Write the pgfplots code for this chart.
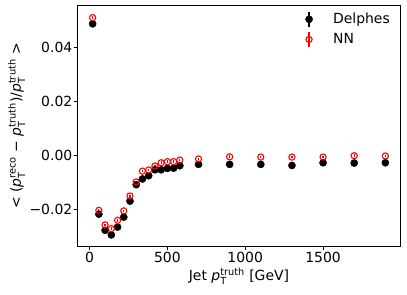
\documentclass[border=0pt]{standalone}
\usepackage{fontspec}
\setmainfont{DejaVu Sans}
\usepackage{amsmath}
\usepackage{pgfplots}
\usepackage{pgfplotstable}
\pgfplotsset{compat=1.18}

\pgfplotstableread{
x y e
20 0.0488 0.0005
60 -0.0216 0.0005
100 -0.0276 0.0005
140 -0.0293 0.0005
180 -0.0264 0.0005
220 -0.0227 0.0005
260 -0.0168 0.0005
300 -0.0107 0.0005
340 -0.0086 0.0005
380 -0.0074 0.0005
420 -0.0052 0.0005
460 -0.0052 0.0005
500 -0.0047 0.0005
540 -0.0046 0.0005
580 -0.0037 0.0005
700 -0.0032 0.0005
900 -0.0032 0.0005
1100 -0.0032 0.0005
1300 -0.0036 0.0005
1500 -0.0026 0.0005
1700 -0.0027 0.0005
1900 -0.0026 0.0005
}\delphes

\pgfplotstableread{
x y e
20 0.0511 0.0005
60 -0.0202 0.0005
100 -0.0256 0.0005
140 -0.0270 0.0005
180 -0.0239 0.0005
220 -0.0204 0.0005
260 -0.0149 0.0005
300 -0.0097 0.0005
340 -0.0057 0.0005
380 -0.0053 0.0005
420 -0.0038 0.0005
460 -0.0026 0.0005
500 -0.0022 0.0005
540 -0.0022 0.0005
580 -0.0016 0.0005
700 -0.0012 0.0005
900 -0.0004 0.0005
1100 -0.0005 0.0005
1300 -0.0005 0.0005
1500 -0.0005 0.0005
1700 0.0000 0.0005
1900 -0.0001 0.0005
}\nn

\begin{document}
\fontsize{14}{17}\selectfont
\begin{tikzpicture}
\useasboundingbox (-78bp,-49bp) rectangle (329bp,246bp);
\begin{axis}[
  at={(0,0)}, anchor=south west,
  scale only axis, width=322bp, height=240bp,
  xmin=-74, xmax=1994, ymin=-0.0334, ymax=0.0554,
  scaled ticks=false,
  xtick={0,500,1000,1500}, xticklabels={0,500,1000,1500},
  ytick={-0.02,0,0.02,0.04}, yticklabels={−0.02,0.00,0.02,0.04},
  /pgf/number format/assume math mode=true,
  tick align=outside, xtick pos=bottom, ytick pos=left,
  major tick length=4bp,
  every tick/.style={black, line width=1bp},
  axis line style={line width=1bp, black},
  tick label style={font=\fontsize{14}{17}\selectfont},
  yticklabel style={inner xsep=1.5bp},
  xticklabel style={inner ysep=2bp},
  label style={font=\fontsize{14}{17}\selectfont},
  xlabel={Jet \textit{p}$^{\text{truth}}_{\text{T}}$ [GeV]},
  ylabel={< (\textit{p}$^{\text{reco}}_{\text{T}}$ − \textit{p}$^{\text{truth}}_{\text{T}}$)/\textit{p}$^{\text{truth}}_{\text{T}}$ >},
  xlabel style={yshift=2bp},
  ylabel style={yshift=-2bp},
  legend style={at={(axis description cs:1,1)}, anchor=north east,
    xshift=-5bp, yshift=-3bp, draw=none, fill=none,
    font=\fontsize{14}{17}\selectfont, row sep=4bp,
    nodes={inner xsep=2bp, inner ysep=1bp}},
  legend cell align=left,
]
\addplot[only marks, black, mark=*, mark size=3.6bp,
  legend image code/.code={
    \draw[black, line width=1.2bp] (0bp,-7.5bp) -- (0bp,7.5bp);
    \fill[black] (0bp,0bp) circle (3.6bp);
    \path[draw=none, fill=none] (-4bp,0bp) -- (22bp,0bp);},
  error bars/.cd, y dir=both, y explicit,
  error bar style={line width=1.2bp, black}, error mark=none]
  table[x=x, y=y, y error=e] {\delphes};
\addlegendentry{Delphes}
\addplot[only marks, red, mark=o, mark size=3.1bp, mark options={line width=1.1bp},
  legend image code/.code={
    \draw[red, line width=1.2bp] (0bp,-7.5bp) -- (0bp,7.5bp);
    \draw[red, line width=1.1bp] (0bp,0bp) circle (3.1bp);
    \path[draw=none, fill=none] (-4bp,0bp) -- (22bp,0bp);},
  error bars/.cd, y dir=both, y explicit,
  error bar style={line width=1.2bp, red}, error mark=none]
  table[x=x, y=y, y error=e] {\nn};
\addlegendentry{NN}
\end{axis}
\end{tikzpicture}
\end{document}
